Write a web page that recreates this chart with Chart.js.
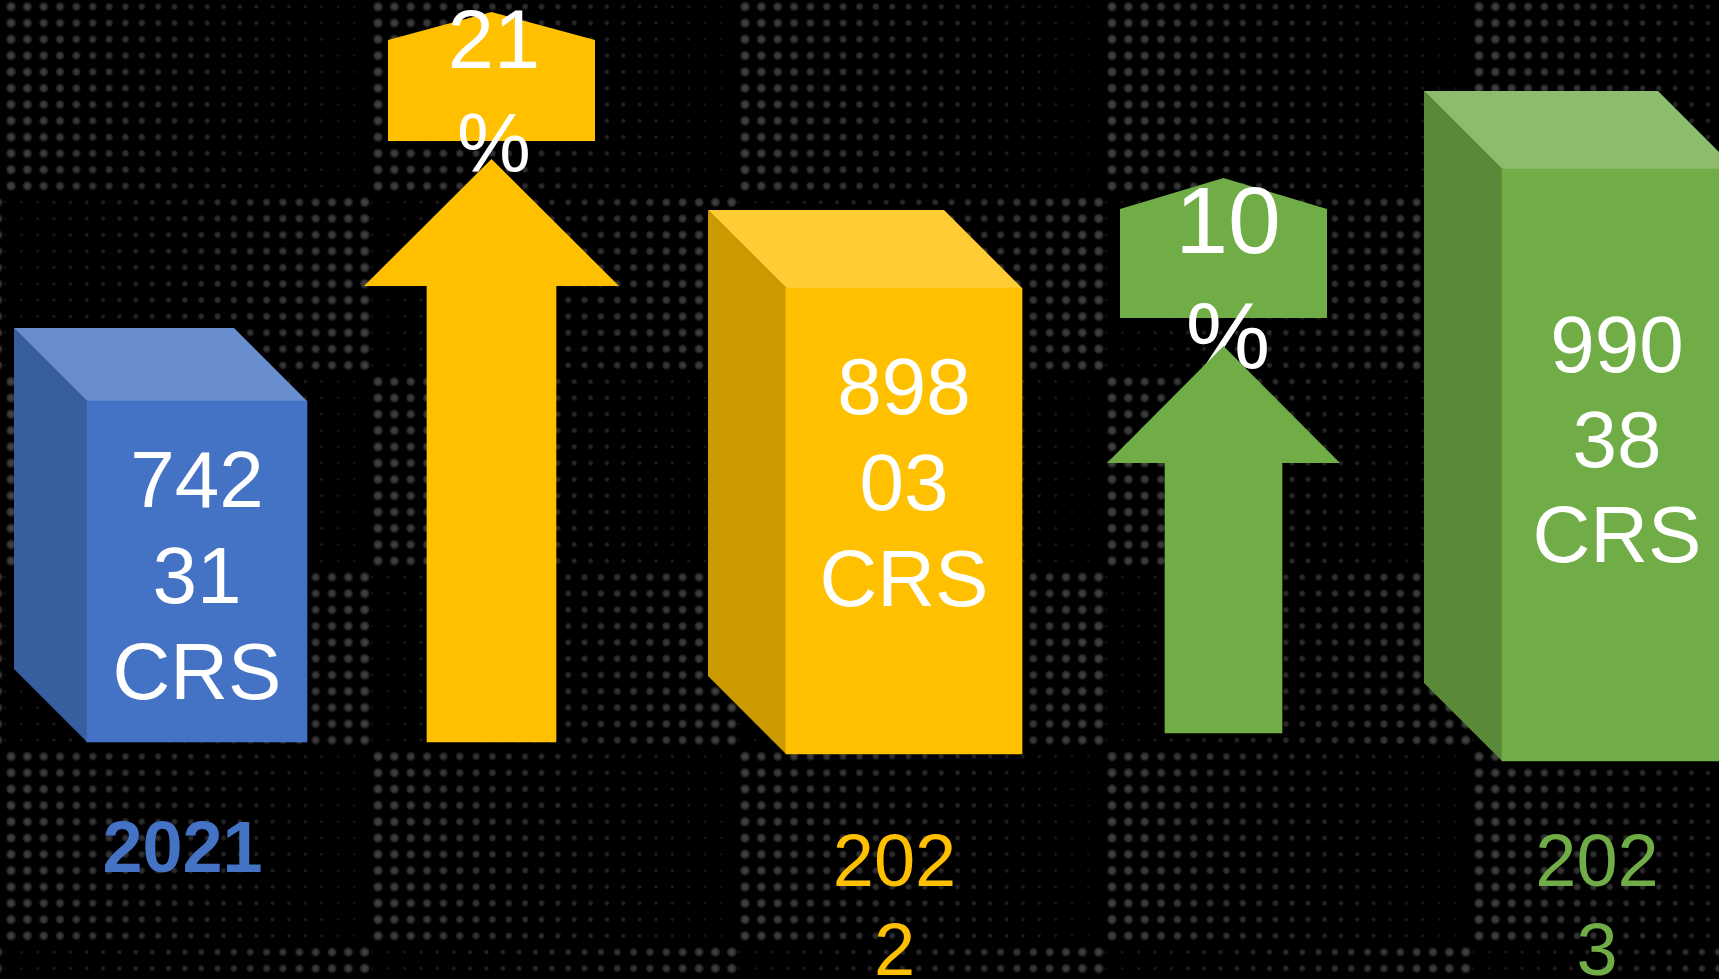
<!DOCTYPE html>
<html>
<head>
<meta charset="utf-8">
<title>Three-year growth</title>
<style>html,body{margin:0;padding:0;background:#000;overflow:hidden}canvas{display:block}</style>
<script src="https://cdn.jsdelivr.net/npm/chart.js@4"></script>
</head>
<body>
<canvas id="c" width="1719" height="979"></canvas>
<script>
// ---- data ----
const years = ['2021', '2022', '2023'];
const revenueCrs = [74231, 89803, 99038];
const growthPct = [21, 10];
// The drawn block heights are not proportional to the revenue in the source slide,
// so block and arrow extents are read off the picture in its own height units.
const blockBase = [237, 225, 218];
const blockTop = [578, 691, 810];
const arrowBase = [237, 246];
const arrowShaftTop = [693, 516];
const arrowTip = [820, 633];
const tagBase = [838, 661];
const tagShoulder = [939, 770];
const tagApex = [967, 801];

// ---- layout and style ----
const blockLook = [
  {x: 197, w: 220, depth: 73, front: '#4472C4', top: '#698ED0', side: '#375F9F'},
  {x: 904, w: 236, depth: 78, front: '#FFC000', top: '#FFCD33', side: '#CC9A00'},
  {x: 1619, w: 234, depth: 78, front: '#70AD47', top: '#8DBD6C', side: '#5A8A39'}
];
const arrowLook = [
  {x: 491.5, w: 129, head: 255, tagW: 207, color: '#FFC000', font: 83, line: 104, textX: 494, textY: 68},
  {x: 1223.5, w: 117, head: 233, tagW: 207, color: '#70AD47', font: 95, line: 115, textX: 1228, textY: 253}
];
const valueText = [
  {x: 197, y: 507, size: 80, line: 96},
  {x: 904, y: 414, size: 80, line: 96},
  {x: 1617, y: 372, size: 80, line: 95}
];
const yearText = [
  {x: 182.5, y: 872, size: 72, bold: true, color: '#4472C4', lines: 1},
  {x: 894.5, y: 886, size: 74, bold: false, color: '#FFC000', lines: 2},
  {x: 1597, y: 886, size: 74, bold: false, color: '#70AD47', lines: 2}
];
const FONT = '"Liberation Sans", Arial, sans-serif';

function poly(ctx, pts, fill) {
  ctx.beginPath();
  pts.forEach((p, i) => i ? ctx.lineTo(p[0], p[1]) : ctx.moveTo(p[0], p[1]));
  ctx.closePath();
  ctx.fillStyle = fill;
  ctx.fill();
}

// Decorative halftone wallpaper behind the chart
function drawWallpaper(ctx) {
  ctx.fillStyle = '#000';
  ctx.fillRect(0, 0, 1719, 979);
  const pitch = 16.35, tileW = 367, edges = [195, 380, 565, 750, 945];
  for (let k = 0; k < 61; k++) {
    const y = 6.7 + 16.3 * k;
    let band = edges.findIndex(e => y < e);
    if (band < 0) band = edges.length;
    const odd = band % 2 === 1;
    const off = odd ? 5 : 11;
    const n = odd ? 23 : 22;
    for (let c = -1; c < 5; c++) {
      for (let i = 0; i < n; i++) {
        const t = odd ? i / (n - 1) : 1 - i / (n - 1);
        const x = c * tileW + off + i * pitch;
        if (x < -8 || x > 1727) continue;
        const r = 1.7 + 4.0 * t;
        const a = 0.09 + 0.18 * t;
        const g = ctx.createRadialGradient(x, y, 0, x, y, r);
        g.addColorStop(0, 'rgba(255,255,255,' + a + ')');
        g.addColorStop(0.5, 'rgba(255,255,255,' + (a * 0.8) + ')');
        g.addColorStop(1, 'rgba(255,255,255,0)');
        ctx.fillStyle = g;
        ctx.beginPath();
        ctx.arc(x, y, r, 0, Math.PI * 2);
        ctx.fill();
      }
    }
  }
}

const slidePlugin = {
  id: 'slide',
  beforeDraw(chart) { drawWallpaper(chart.ctx); },
  beforeDatasetsDraw(chart) {
    const ctx = chart.ctx, X = chart.scales.x, Y = chart.scales.y;
    // block side and top faces
    blockLook.forEach((b, i) => {
      const cx = X.getPixelForValue(b.x);
      const l = cx - b.w / 2, r = cx + b.w / 2;
      const t = Y.getPixelForValue(blockTop[i]), u = Y.getPixelForValue(blockBase[i]);
      const d = b.depth;
      poly(ctx, [[l - d, t - d], [l, t], [l, u], [l - d, u - d]], b.side);
      poly(ctx, [[l - d, t - d], [r - d, t - d], [r, t], [l, t]], b.top);
    });
    // growth tags with their percentage text (the arrow overlaps the text)
    arrowLook.forEach((a, i) => {
      const cx = X.getPixelForValue(a.x);
      const l = cx - a.tagW / 2, r = cx + a.tagW / 2;
      const yb = Y.getPixelForValue(tagBase[i]), ys = Y.getPixelForValue(tagShoulder[i]), ya = Y.getPixelForValue(tagApex[i]);
      poly(ctx, [[l, yb], [l, ys], [cx, ya], [r, ys], [r, yb]], a.color);
      ctx.fillStyle = '#fff';
      ctx.textAlign = 'center';
      ctx.textBaseline = 'alphabetic';
      ctx.font = a.font + 'px ' + FONT;
      ctx.fillText(String(growthPct[i]), a.textX, a.textY);
      ctx.fillText('%', a.textX, a.textY + a.line);
    });
  },
  afterDatasetsDraw(chart) {
    const ctx = chart.ctx, X = chart.scales.x, Y = chart.scales.y;
    // arrow heads
    arrowLook.forEach((a, i) => {
      const cx = X.getPixelForValue(a.x);
      const yb = Y.getPixelForValue(arrowShaftTop[i]), yt = Y.getPixelForValue(arrowTip[i]);
      poly(ctx, [[cx - a.head / 2, yb], [cx, yt], [cx + a.head / 2, yb]], a.color);
    });
    // values on the block fronts
    ctx.textAlign = 'center';
    ctx.textBaseline = 'alphabetic';
    revenueCrs.forEach((v, i) => {
      const s = String(v), p = valueText[i];
      ctx.font = p.size + 'px ' + FONT;
      ctx.fillStyle = '#fff';
      [s.slice(0, 3), s.slice(3), 'CRS'].forEach((txt, j) => ctx.fillText(txt, p.x, p.y + j * p.line));
    });
    // year captions
    years.forEach((yr, i) => {
      const p = yearText[i];
      ctx.font = (p.bold ? 'bold ' : '') + p.size + 'px ' + FONT;
      ctx.fillStyle = p.color;
      if (p.lines === 1) {
        ctx.fillText(yr, p.x, p.y);
      } else {
        ctx.fillText(yr.slice(0, 3), p.x, p.y);
        ctx.fillText(yr.slice(3), p.x, p.y + 89);
      }
    });
  }
};

const datasets = [
  ...blockLook.map((b, i) => ({
    label: years[i],
    data: [{x: b.x, y: [blockBase[i], blockTop[i]]}],
    backgroundColor: b.front,
    barThickness: b.w,
    grouped: false,
    borderWidth: 0,
    borderSkipped: false
  })),
  ...arrowLook.map((a, i) => ({
    label: growthPct[i] + '%',
    data: [{x: a.x, y: [arrowBase[i], arrowShaftTop[i]]}],
    backgroundColor: a.color,
    barThickness: a.w,
    grouped: false,
    borderWidth: 0,
    borderSkipped: false
  }))
];

new Chart(document.getElementById('c'), {
  type: 'bar',
  data: {datasets},
  options: {
    responsive: false,
    animation: false,
    events: [],
    layout: {padding: 0},
    plugins: {legend: {display: false}, tooltip: {enabled: false}, title: {display: false}},
    scales: {
      x: {type: 'linear', display: false, offset: false, min: 0, max: 1719},
      y: {type: 'linear', display: false, min: 0, max: 979}
    }
  },
  plugins: [slidePlugin]
});
</script>
</body>
</html>
